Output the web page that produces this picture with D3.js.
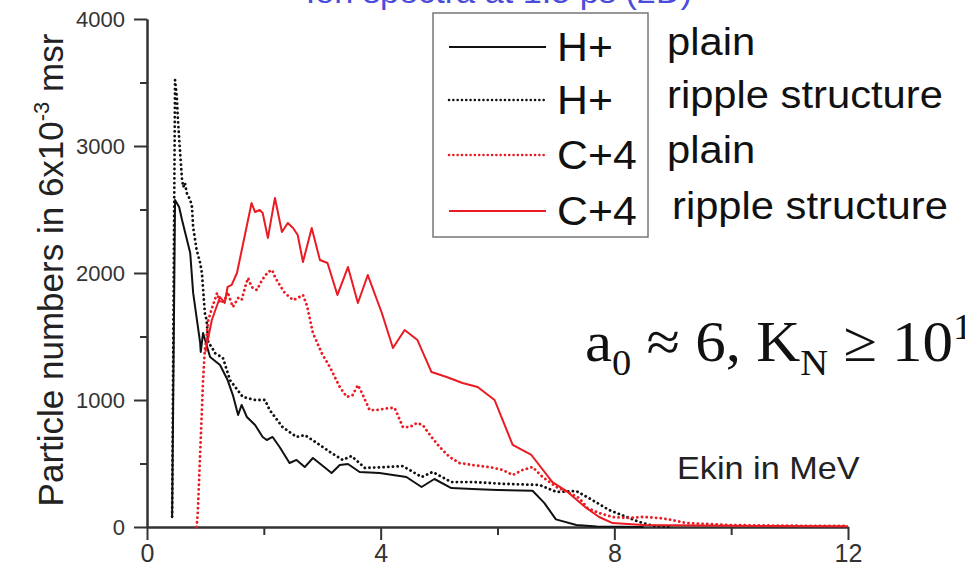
<!DOCTYPE html>
<html>
<head>
<meta charset="utf-8">
<script src="https://cdn.jsdelivr.net/npm/d3@7"></script>
<style>
  html, body { margin: 0; padding: 0; background: #fff; }
  svg { display: block; }
</style>
</head>
<body>
<svg id="chart" width="965" height="571" font-family="Liberation Sans, Arial, sans-serif"></svg>
<script>
// Energy (MeV) / particle-number pairs for each spectrum
const hPlainE = [0.43,0.48,0.55,0.60,0.74,0.79,0.85,0.91,0.92,0.96,1.08,1.25,1.38,1.47,1.56,1.62,1.71,1.85,1.98,2.05,2.15,2.27,2.44,2.56,2.70,2.84,2.99,3.16,3.30,3.44,3.64,3.98,4.44,4.70,4.92,5.21,5.57,6.00,6.60,6.80,7.00,7.35,7.70,8.50];
const hPlainN = [80,2575,2520,2417,2157,1843,1646,1449,1378,1528,1339,1276,1157,1039,882,961,866,803,709,685,709,630,504,528,472,543,488,425,488,496,433,425,394,315,378,307,299,291,285,190,60,16,3,0];

const hRippleE = [0.43,0.48,0.51,0.53,0.56,0.60,0.62,0.65,0.68,0.74,0.77,0.79,0.85,0.91,0.94,0.99,1.02,1.05,1.11,1.16,1.30,1.42,1.64,1.85,2.02,2.10,2.32,2.56,2.70,2.91,3.13,3.35,3.50,3.73,4.10,4.38,4.70,4.89,5.21,5.57,6.15,6.72,7.01,7.35,7.62,7.91,8.21,8.43,8.68,9.00];
const hRippleN = [80,3520,3386,3205,2992,2732,2677,2709,2630,2575,2520,2362,2181,2079,2000,1685,1630,1449,1417,1370,1331,1157,1024,1000,1000,921,787,709,724,661,591,528,559,465,472,480,394,433,354,354,339,331,276,283,213,134,79,39,8,0];

const cPlainE = [0.85,0.87,0.96,0.99,1.02,1.05,1.11,1.20,1.25,1.33,1.38,1.47,1.56,1.62,1.68,1.73,1.79,1.88,1.97,2.07,2.14,2.19,2.27,2.36,2.50,2.58,2.67,2.74,2.84,2.99,3.13,3.30,3.42,3.52,3.61,3.68,3.81,3.93,4.15,4.24,4.38,4.50,4.62,4.72,4.87,5.01,5.18,5.35,5.57,5.86,6.09,6.26,6.43,6.60,6.77,7.01,7.23,7.40,7.54,7.74,7.97,8.21,8.48,8.77,8.99,9.23,10.0,11.0,12.0];
const cPlainN = [0,118,1157,1394,1496,1630,1720,1843,1764,1787,1850,1732,1803,1787,1890,1961,1890,1866,1945,2008,2024,1969,1906,1843,1787,1803,1827,1740,1528,1370,1260,1102,1024,1039,1118,1055,921,921,937,937,787,787,819,803,709,630,551,504,488,472,449,409,449,472,394,315,268,228,150,110,79,71,79,71,55,31,15,10,8];

const cRippleE = [1.00,1.11,1.25,1.33,1.38,1.45,1.54,1.79,1.85,1.93,1.98,2.07,2.19,2.31,2.41,2.50,2.58,2.67,2.82,2.96,3.09,3.26,3.44,3.61,3.78,4.02,4.21,4.41,4.63,4.87,5.13,5.40,5.66,5.95,6.26,6.58,6.94,7.20,7.52,7.74,7.97,8.50,10.0,12.0];
const cRippleN = [1380,1630,1811,1764,1890,1906,2000,2551,2480,2496,2472,2276,2591,2323,2394,2354,2299,2087,2354,2102,2079,1827,2047,1764,1984,1685,1409,1551,1472,1220,1181,1134,1102,1000,646,567,354,276,150,79,31,15,10,5];

const xMajorTicks = [0, 4, 8, 12];
const xMinorTicks = [2, 6, 10];
const yMajorTicks = [0, 1000, 2000, 3000, 4000];
const yMinorTicks = [500, 1500, 2500, 3500];

const legendIons = ["H+", "H+", "C+4", "C+4"];
const legendKinds = ["plain", "ripple structure", "plain", "ripple structure"];

const RED = "#ea1b22";
const series = [
  { e: hPlainE,  n: hPlainN,  color: "#111", dotted: false },
  { e: hRippleE, n: hRippleN, color: "#111", dotted: true },
  { e: cPlainE,  n: cPlainN,  color: RED,    dotted: true },
  { e: cRippleE, n: cRippleN, color: RED,    dotted: false }
];

// glyphs in this figure are drawn slightly wide
const WIDE = 1.07;

const svg = d3.select("#chart");
const x = d3.scaleLinear().domain([0, 12]).range([147, 848]);
const y = d3.scaleLinear().domain([0, 4000]).range([527, 19]);

function wideText(parent, px, py) {
  return parent.append("text").attr("transform", `translate(${px},${py}) scale(${WIDE},1)`);
}

// heading in blue, running off the top edge
wideText(svg, 692, 3)
  .attr("text-anchor", "end")
  .attr("font-size", 32)
  .attr("fill", "#4b4bdc")
  .text("Ion spectra at 1.5 ps (2D)");

// axes
const axisColor = "#333";
const gy = svg.append("g").attr("transform", `translate(${x(0)},0)`);
gy.call(d3.axisLeft(y).tickValues(yMajorTicks).tickSize(13).tickSizeOuter(0).tickPadding(9).tickFormat(d3.format("d")));
gy.append("g").call(d3.axisLeft(y).tickValues(yMinorTicks).tickSize(7).tickSizeOuter(0).tickFormat(""));
gy.selectAll("text").attr("font-size", 22).attr("fill", "#333");

const gx = svg.append("g").attr("transform", `translate(0,${y(0)})`);
gx.call(d3.axisBottom(x).tickValues(xMajorTicks).tickSize(13).tickSizeOuter(0).tickPadding(4).tickFormat(d3.format("d")));
gx.append("g").call(d3.axisBottom(x).tickValues(xMinorTicks).tickSize(8).tickSizeOuter(0).tickFormat(""));
gx.selectAll("text").attr("font-size", 25).attr("fill", "#333");
svg.selectAll("g").attr("font-family", null);

svg.selectAll(".domain, .tick line").attr("stroke", axisColor).attr("stroke-width", 2);

// spectra
const line = d3.line().x(d => x(d[0])).y(d => y(d[1]));
series.forEach(s => {
  const pts = s.e.map((e, i) => [e, s.n[i]]);
  const p = svg.append("path")
    .datum(pts)
    .attr("d", line)
    .attr("fill", "none")
    .attr("stroke", s.color)
    .attr("stroke-linejoin", "round");
  if (s.dotted) {
    p.attr("stroke-width", 2.8).attr("stroke-dasharray", "0.1 4.6").attr("stroke-linecap", "round");
  } else {
    p.attr("stroke-width", 2);
  }
});

// y axis title
const yt = svg.append("text")
  .attr("transform", "translate(63,270) rotate(-90)")
  .attr("text-anchor", "middle")
  .attr("font-size", 35)
  .attr("fill", "#222");
yt.append("tspan").text("Particle numbers in 6x10");
yt.append("tspan").attr("dy", -14).attr("font-size", 22).text("-3");
yt.append("tspan").attr("dy", 14).text(" msr");

// x axis title
wideText(svg, 677, 479)
  .attr("font-size", 32)
  .attr("fill", "#222")
  .text("Ekin in MeV");

// legend
const lg = svg.append("g");
lg.append("rect")
  .attr("x", 433).attr("y", 13).attr("width", 215).attr("height", 224)
  .attr("fill", "#fff").attr("stroke", "#777").attr("stroke-width", 1.5);
const rowY = [47, 100, 155, 211];
series.forEach((s, i) => {
  const l = lg.append("line")
    .attr("x1", 449).attr("x2", 546)
    .attr("y1", rowY[i]).attr("y2", rowY[i])
    .attr("stroke", s.color);
  if (s.dotted) {
    l.attr("stroke-width", 2.5).attr("stroke-dasharray", "0.1 4.2").attr("stroke-linecap", "round");
  } else {
    l.attr("stroke-width", 2);
  }
  wideText(lg, 557, rowY[i] + 14)
    .attr("font-size", 40).attr("fill", "#111")
    .text(legendIons[i]);
  wideText(lg, i === 3 ? 672 : 667, rowY[i] + 8)
    .attr("font-size", 39).attr("fill", "#111")
    .text(legendKinds[i]);
});

// parameter annotation
const ann = wideText(svg, 585, 361)
  .attr("font-family", "Liberation Serif, Times New Roman, serif")
  .attr("font-size", 57)
  .attr("fill", "#111");
ann.append("tspan").text("a");
ann.append("tspan").attr("dy", 14).attr("font-size", 36).text("0");
ann.append("tspan").attr("dy", -14).text(" \u2248 6, K");
ann.append("tspan").attr("dy", 14).attr("font-size", 36).text("N");
ann.append("tspan").attr("dy", -14).text(" \u2265 10");
ann.append("tspan").attr("dy", -22).attr("font-size", 36).text("10");
</script>
</body>
</html>
